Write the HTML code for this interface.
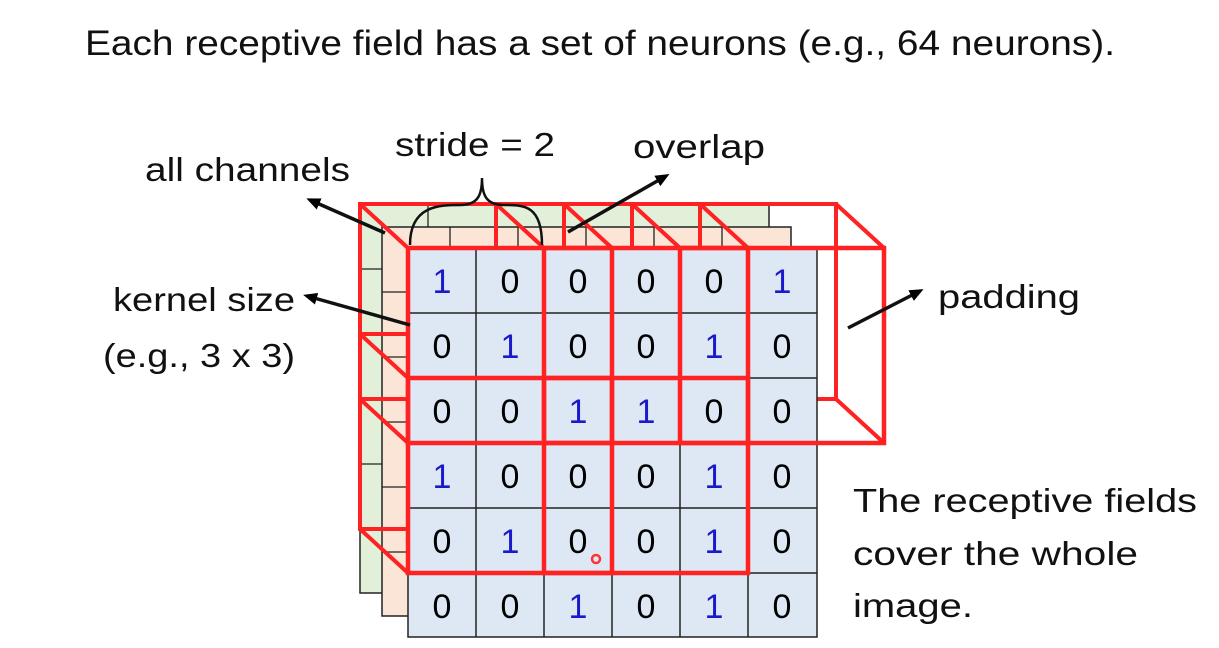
<!DOCTYPE html>
<html><head><meta charset="utf-8"><style>
html,body{margin:0;padding:0;background:#fff;}
svg{display:block;font-family:"Liberation Sans",sans-serif;}
</style></head><body>
<svg width="1219" height="648" viewBox="0 0 1219 648" xmlns="http://www.w3.org/2000/svg">
<defs>
<marker id="ah" markerWidth="14" markerHeight="12" refX="10" refY="6" orient="auto" markerUnits="userSpaceOnUse">
<path d="M0,0 L14,6 L0,12 z" fill="#000"/>
</marker>
</defs>
<text x="85" y="55" font-size="35" fill="#111" textLength="1030" lengthAdjust="spacingAndGlyphs">Each receptive field has a set of neurons (e.g., 64 neurons).</text>

<g stroke="#222" stroke-width="1.5">
<rect x="360" y="204" width="409" height="389" fill="#e2efd9"/>
<rect x="382" y="227" width="409" height="389" fill="#fbe5d6"/>
</g>
<g stroke="#222" stroke-width="1.3">
<path d="M428,204V227 M496,204V227 M564,204V227 M632,204V227 M700,204V227"/>
<path d="M360,269H382 M360,334H382 M360,399H382 M360,464H382 M360,529H382"/>
<path d="M450,227V248 M518,227V248 M586,227V248 M654,227V248 M722,227V248"/>
<path d="M382,292H408 M382,357H408 M382,422H408 M382,487H408 M382,552H408"/>
</g>

<g stroke="#f22" stroke-width="4" fill="none">
<rect x="360" y="204" width="204" height="195"/>
<rect x="496" y="204" width="204" height="195"/>
<rect x="632" y="204" width="204" height="195"/>
<rect x="360" y="334" width="204" height="195"/>
<rect x="496" y="334" width="204" height="195"/>
<path d="M360,204L408,248 M564,204L612,248 M360,399L408,443 M564,399L612,443"/>
<path d="M496,204L544,248 M700,204L748,248 M496,399L544,443 M700,399L748,443"/>
<path d="M632,204L680,248 M836,204L884,248 M632,399L680,443 M836,399L884,443"/>
<path d="M360,334L408,378 M564,334L612,378 M360,529L408,573 M564,529L612,573"/>
<path d="M496,334L544,378 M700,334L748,378 M496,529L544,573 M700,529L748,573"/>
</g>

<rect x="408" y="248" width="409" height="389" fill="#dde8f4" stroke="#222" stroke-width="1.5"/>
<g stroke="#222" stroke-width="1.5">
<path d="M476,248V637 M544,248V637 M612,248V637 M680,248V637 M748,248V637"/>
<path d="M408,313H817 M408,378H817 M408,443H817 M408,508H817 M408,573H817"/>
</g>
<g font-size="34" text-anchor="middle">
<text x="442" y="293" fill="#1a1acc">1</text><text x="510" y="293">0</text><text x="578" y="293">0</text><text x="646" y="293">0</text><text x="714" y="293">0</text><text x="782" y="293" fill="#1a1acc">1</text>
<text x="442" y="358">0</text><text x="510" y="358" fill="#1a1acc">1</text><text x="578" y="358">0</text><text x="646" y="358">0</text><text x="714" y="358" fill="#1a1acc">1</text><text x="782" y="358">0</text>
<text x="442" y="423">0</text><text x="510" y="423">0</text><text x="578" y="423" fill="#1a1acc">1</text><text x="646" y="423" fill="#1a1acc">1</text><text x="714" y="423">0</text><text x="782" y="423">0</text>
<text x="442" y="488" fill="#1a1acc">1</text><text x="510" y="488">0</text><text x="578" y="488">0</text><text x="646" y="488">0</text><text x="714" y="488" fill="#1a1acc">1</text><text x="782" y="488">0</text>
<text x="442" y="553">0</text><text x="510" y="553" fill="#1a1acc">1</text><text x="578" y="553">0</text><text x="646" y="553">0</text><text x="714" y="553" fill="#1a1acc">1</text><text x="782" y="553">0</text>
<text x="442" y="618">0</text><text x="510" y="618">0</text><text x="578" y="618" fill="#1a1acc">1</text><text x="646" y="618">0</text><text x="714" y="618" fill="#1a1acc">1</text><text x="782" y="618">0</text>
</g>

<g stroke="#f22" stroke-width="4.5" fill="none">
<rect x="408" y="248" width="204" height="195"/>
<rect x="544" y="248" width="204" height="195"/>
<rect x="680" y="248" width="204" height="195"/>
<rect x="408" y="378" width="204" height="195"/>
<rect x="544" y="378" width="204" height="195"/>
</g>
<circle cx="596" cy="559" r="4" fill="none" stroke="#f33" stroke-width="2.5"/>

<path d="M410,245 C410,205 440,205 460,205 C478,205 482,195 482,178 C482,195 486,205 504,205 C524,205 542,205 542,245" fill="none" stroke="#111" stroke-width="2.5"/>

<g stroke="#111" stroke-width="3.5" fill="none" marker-end="url(#ah)">
<line x1="385" y1="233" x2="310" y2="200"/>
<line x1="568" y1="232" x2="666" y2="176"/>
<line x1="410" y1="325" x2="307" y2="296"/>
<line x1="848" y1="328" x2="920" y2="291"/>
</g>

<g font-size="33" fill="#111">
<text x="395" y="156" textLength="160" lengthAdjust="spacingAndGlyphs">stride = 2</text>
<text x="633" y="158" textLength="132" lengthAdjust="spacingAndGlyphs">overlap</text>
<text x="145" y="181" textLength="205" lengthAdjust="spacingAndGlyphs">all channels</text>
<text x="113" y="311" textLength="182" lengthAdjust="spacingAndGlyphs">kernel size</text>
<text x="103" y="367" textLength="192" lengthAdjust="spacingAndGlyphs">(e.g., 3 x 3)</text>
<text x="938" y="308" textLength="142" lengthAdjust="spacingAndGlyphs">padding</text>
<text x="853" y="512" textLength="344" lengthAdjust="spacingAndGlyphs">The receptive fields</text>
<text x="853" y="565" textLength="285" lengthAdjust="spacingAndGlyphs">cover the whole</text>
<text x="853" y="617" textLength="120" lengthAdjust="spacingAndGlyphs">image.</text>
</g>
</svg>
</body></html>
